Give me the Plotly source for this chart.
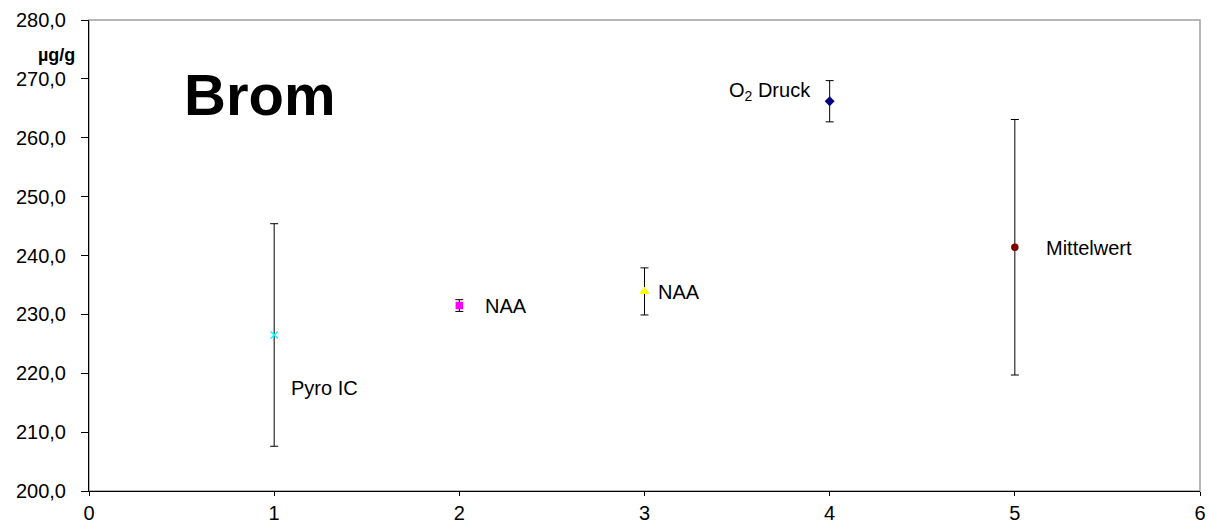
import plotly.graph_objects as go

# Bromine results (µg/g) per method, with their uncertainties
positions = [1, 2, 3, 4, 5]
values = [226.5, 231.5, 233.9, 266.2, 241.4]
errors = [18.9, 1.0, 4.0, 3.5, 21.7]
labels = ["Pyro IC", "NAA", "NAA", "O<sub>2</sub> Druck", "Mittelwert"]
colors = ["#00FFFF", "#FF00FF", "#FFFF00", "#000080", "#800000"]
symbols = ["x-thin", "square", "triangle-up", "diamond", "circle"]
sizes = [7, 6, 7, 6, 6]

# label placement relative to each point (x offset, y value, anchor)
label_x = [1.08, 2.13, 3.06, 3.91, 5.16]
label_y = [217.5, 231.4, 233.8, 267.8, 241.2]
label_anchor = ["left", "left", "left", "right", "left"]

x_ticks = [0, 1, 2, 3, 4, 5, 6]
y_ticks = [200, 210, 220, 230, 240, 250, 260, 270, 280]

fig = go.Figure()

for i in range(len(positions)):
    fig.add_trace(go.Scatter(
        x=[positions[i]], y=[values[i]],
        mode="markers",
        marker=dict(color=colors[i], symbol=symbols[i], size=sizes[i],
                    line=dict(color=colors[i], width=1.5)),
        error_y=dict(type="data", array=[errors[i]], visible=True,
                     color="#000000", thickness=1, width=4),
        showlegend=False,
        cliponaxis=False,
    ))
    fig.add_annotation(x=label_x[i], y=label_y[i], text=labels[i],
                       xref="x", yref="y", showarrow=False,
                       xanchor=label_anchor[i], yanchor="middle",
                       font=dict(size=20, color="#000000"))

# Title inside the plot area
fig.add_annotation(x=0.919, y=267.4, text="<b>Brom</b>", xref="x", yref="y",
                   showarrow=False, xanchor="center", yanchor="middle",
                   font=dict(size=58, color="#000000"))

# Unit label left of the y axis
fig.add_annotation(x=-0.0108, y=274.1, text="<b>µg/g</b>", xref="paper", yref="y",
                   showarrow=False, xanchor="right", yanchor="middle",
                   font=dict(size=18, color="#000000"))

# Grey frame on top and right of the plot area
fig.add_shape(type="rect", xref="paper", yref="paper", x0=0, y0=0, x1=1, y1=1,
              line=dict(color="#A0A0A0", width=1.5), layer="below")

fig.update_layout(
    width=1209, height=528,
    margin=dict(l=89, r=9, t=20, b=37),
    paper_bgcolor="white", plot_bgcolor="white",
    separators=",.",
    font=dict(family="Liberation Sans, Arial, sans-serif", size=20, color="#000000"),
)
fig.update_xaxes(range=[0, 6], tickvals=x_ticks, showgrid=False, zeroline=False,
                 showline=True, linecolor="#000000", linewidth=1,
                 ticks="outside", ticklen=4, tickcolor="#000000",
                 automargin=False, tickfont=dict(size=20))
fig.update_yaxes(range=[200, 280], tickvals=y_ticks, tickformat=".1f",
                 showgrid=False, zeroline=False,
                 showline=True, linecolor="#000000", linewidth=1,
                 ticks="outside", ticklen=7, tickcolor="#000000",
                 automargin=False, ticklabelstandoff=11, tickfont=dict(size=20))

fig.write_html("out.html")
